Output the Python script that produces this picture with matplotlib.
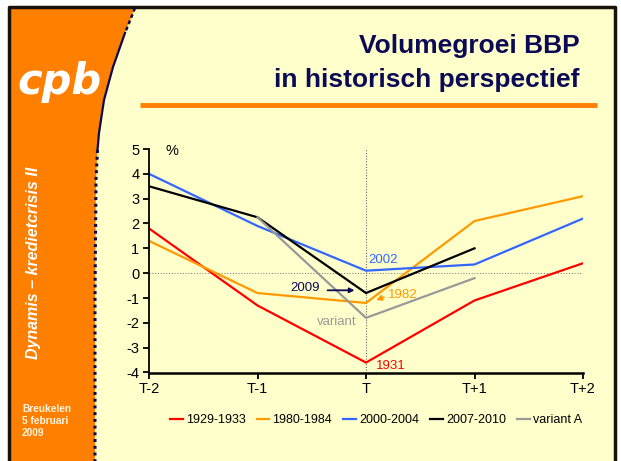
import numpy as np
import matplotlib
matplotlib.use("Agg")
import matplotlib.pyplot as plt
from matplotlib.patches import Polygon, Rectangle

plt.rcParams['font.family'] = ['Liberation Sans', 'DejaVu Sans']
plt.rcParams['axes.unicode_minus'] = False

# data (groei in %, T-2 .. T+2)
periods = ["T-2", "T-1", "T", "T+1", "T+2"]
labels = ["1929-1933", "1980-1984", "2000-2004", "2007-2010", "variant A"]
g1929 = [1.8, -1.3, -3.6, -1.1, 0.4]
g1980 = [1.3, -0.8, -1.2, 2.1, 3.1]
g2000 = [4.0, 1.9, 0.1, 0.35, 2.2]
g2007 = [3.5, 2.25, -0.8, 1.0, np.nan]
gvarA = [np.nan, 2.25, -1.8, -0.2, np.nan]
colors = ["#ff0000", "#ff9900", "#3366ff", "#000000", "#999999"]

W, H = 621, 461
fig = plt.figure(figsize=(W / 100, H / 100), dpi=100)
fig.patch.set_facecolor("white")

# slide background in pixel coords
bg = fig.add_axes([0, 0, 1, 1], zorder=0)
bg.set_xlim(0, W)
bg.set_ylim(H, 0)
bg.axis("off")
bg.add_patch(Rectangle((9, 7), 606, 460, facecolor="#ffffcc", edgecolor="none"))
bg.plot([9, 9, 615, 615], [H, 7, 7, H], color="#1a1208", lw=2.5, solid_capstyle="butt")

cx = [135, 125, 113, 104, 99, 97.5, 96, 95, 95]
cy = [8, 33, 67, 100, 133, 150, 180, 300, H]
bg.add_patch(Polygon(list(zip([10] + cx + [10], [8] + cy + [H])), closed=True,
                     facecolor="#ff8000", edgecolor="none"))
bg.plot(cx[:2], cy[:2], color="#0a0a50", lw=1.8, ls=(0, (1.5, 1.2)))
bg.plot(cx[1:6], cy[1:6], color="#0a0a50", lw=1.6)
bg.plot(cx[5:], cy[5:], color="#0a0a50", lw=2.2, ls=(0, (1.0, 1.2)))

bg.text(60, 82, "cpb", color="white", fontsize=30, fontweight="bold", style="italic",
        family="DejaVu Sans", ha="center", va="center")
bg.text(34, 263, "Dynamis \u2013 kredietcrisis II", color="white", fontsize=11.5,
        fontweight="bold", style="italic", rotation=90, ha="center", va="center")
bg.text(22, 421, "Breukelen\n5 februari\n2009", color="#fff4e0", fontsize=7.3,
        fontweight="bold", ha="left", va="center", linespacing=1.2)

bg.text(580, 46, "Volumegroei BBP", color="#0a0a55",
        fontsize=19, fontweight="bold", ha="right", va="center")
bg.text(580, 80, "in historisch perspectief", color="#0a0a55",
        fontsize=19, fontweight="bold", ha="right", va="center")
bg.plot([140, 597], [105, 105], color="#ff8000", lw=3.5, solid_capstyle="butt")

# chart
ax = fig.add_axes([149 / W, 1 - 372.5 / H, 434 / W, 223.5 / H], zorder=2)
ax.patch.set_alpha(0)
x = np.arange(len(periods))
for vals, lab, col in zip([g1929, g1980, g2000, g2007, gvarA], labels, colors):
    ax.plot(x, vals, color=col, lw=1.6, label=lab)

ax.axhline(0, color="#888888", lw=0.8, ls=(0, (1, 1.5)), zorder=0)
ax.axvline(2, color="#666666", lw=0.8, ls=(0, (1, 1.5)), zorder=0)

ax.set_xlim(0, 4)
ax.set_ylim(-4, 5)
ax.set_xticks(x)
ax.set_xticklabels(periods)
ax.set_yticks(range(-4, 6))
for s in ["top", "right"]:
    ax.spines[s].set_visible(False)
ax.spines["left"].set_linewidth(1.3)
ax.spines["bottom"].set_linewidth(1.8)
ax.tick_params(axis="both", direction="out", length=4, width=1.3, labelsize=10.5, pad=3)
ax.text(0.15, 4.9, "%", fontsize=10.5, ha="left", va="center")

ax.text(2.02, 0.55, "2002", color=colors[2], fontsize=9.5, ha="left", va="center")
ax.text(2.2, -0.87, "1982", color=colors[1], fontsize=9.5, ha="left", va="center")
ax.annotate("", xy=(2.07, -1.12), xytext=(2.19, -0.93),
            arrowprops=dict(arrowstyle="-|>", color=colors[1], lw=1.2, mutation_scale=8))
ax.text(2.09, -3.74, "1931", color=colors[0], fontsize=9.5, ha="left", va="center")
ax.text(1.91, -1.98, "variant", color="#999999", fontsize=9.5, ha="right", va="center")
ax.text(1.57, -0.61, "2009", color="#0a0a55", fontsize=9.5, ha="right", va="center")
ax.annotate("", xy=(1.92, -0.69), xytext=(1.62, -0.69),
            arrowprops=dict(arrowstyle="-|>", color="#0a0a55", lw=1.3, mutation_scale=7))

fig.legend(loc="center", bbox_to_anchor=(376 / W, 1 - 420 / H), ncol=5, frameon=False,
           fontsize=9, handlelength=1.0, handletextpad=0.25, columnspacing=0.9)

fig.savefig("out.png", dpi=100)
